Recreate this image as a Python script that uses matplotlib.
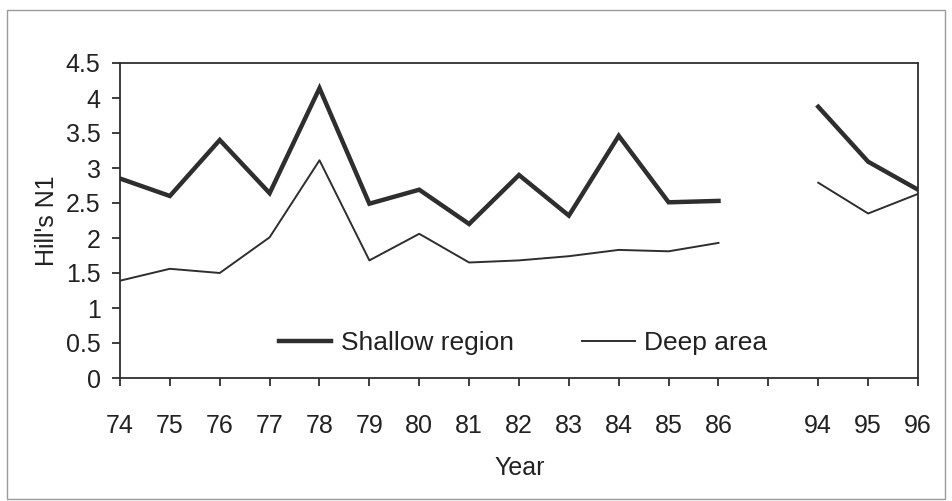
import numpy as np
import matplotlib
matplotlib.use("Agg")
import matplotlib.pyplot as plt
from matplotlib.patches import Rectangle

years = ["74", "75", "76", "77", "78", "79", "80", "81", "82", "83", "84", "85", "86", "", "94", "95", "96"]
shallow = [2.85, 2.60, 3.40, 2.64, 4.14, 2.49, 2.69, 2.20, 2.90, 2.32, 3.46, 2.51, 2.53, np.nan, 3.875, 3.09, 2.69]
deep = [1.39, 1.56, 1.50, 2.01, 3.11, 1.68, 2.06, 1.65, 1.68, 1.74, 1.83, 1.81, 1.93, np.nan, 2.79, 2.35, 2.63]
yticks = [0, 0.5, 1, 1.5, 2, 2.5, 3, 3.5, 4, 4.5]
ytick_labels = ["0", "0.5", "1", "1.5", "2", "2.5", "3", "3.5", "4", "4.5"]

plt.rcParams['font.family'] = ['Liberation Sans', 'DejaVu Sans']
W, H = 953, 501
fig = plt.figure(figsize=(W / 100, H / 100), dpi=100)
fig.patch.set_facecolor("white")

# outer frame
fig.patches.append(Rectangle((7 / W, 1 - 499 / H), (945 - 7) / W, (499 - 10) / H,
                             transform=fig.transFigure, fill=False,
                             edgecolor="#9a9a9a", linewidth=1.0))

ax = fig.add_axes([120 / W, 1 - 378 / H, (918 - 120) / W, (378 - 63) / H])
x = np.arange(len(years))
col = "#2e2e2e"
ax.plot(x, shallow, color=col, lw=3.2, label="Shallow region", solid_joinstyle="miter")
ax.plot(x, deep, color=col, lw=1.4, label="Deep area")

ax.set_xlim(0, len(years) - 1)
ax.set_ylim(0, 4.5)
ax.set_xticks(x)
ax.set_xticklabels(years)
ax.set_yticks(yticks)
ax.set_yticklabels(ytick_labels)

for s in ax.spines.values():
    s.set_color(col)
    s.set_linewidth(1.3)
ax.tick_params(axis="both", colors=col, labelcolor="#222222", labelsize=18,
               length=6, width=1.3, direction="out")
ax.tick_params(axis="x", pad=20)
ax.tick_params(axis="y", pad=8)

ax.set_ylabel("Hill's N1", fontsize=18, color="#222222")
ax.yaxis.set_label_coords((59 - 120) / 798, 0.5)
fig.text(520 / W, 1 - 468 / H, "Year", fontsize=18, color="#222222", ha="center", va="center")

leg = ax.legend(loc="center", bbox_to_anchor=((523 - 120) / 798, (378 - 343) / 315),
                ncol=2, frameon=False, fontsize=19, handlelength=2.0,
                handletextpad=0.35, columnspacing=2.6)
for t in leg.get_texts():
    t.set_color("#222222")

fig.savefig("out.png", dpi=100)
